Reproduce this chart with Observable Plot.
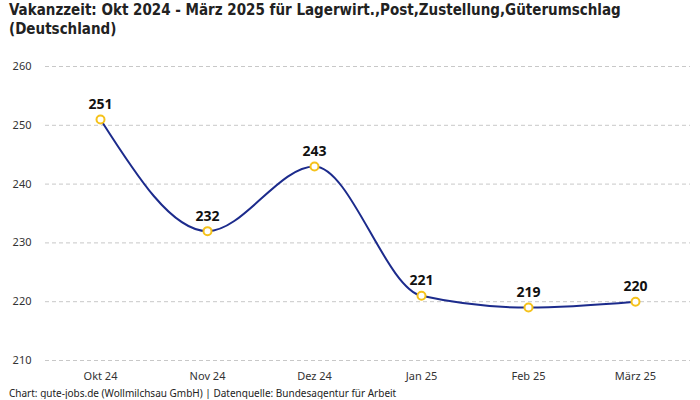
<!DOCTYPE html>
<html><head><meta charset="utf-8">
<script src="https://cdn.jsdelivr.net/npm/d3@7"></script>
<script src="https://cdn.jsdelivr.net/npm/@observablehq/plot@0.6"></script>
<style>
body{margin:0;background:#fff;font-family:"Noto Sans",sans-serif;}
#title{font-family:"DejaVu Sans",sans-serif;font-stretch:condensed;font-weight:bold;font-size:15px;line-height:19px;color:#222;padding:1px 0 0 9px;height:42px;box-sizing:border-box;white-space:nowrap;}
#cap{font-size:10px;color:#222;padding-left:9px;margin-top:1px;line-height:12px;}
</style></head><body>
<div id="title">Vakanzzeit: Okt 2024 - März 2025 für Lagerwirt.,Post,Zustellung,Güterumschlag<br>(Deutschland)</div>
<div id="chart"></div>
<div id="cap">Chart: gute-jobs.de (Wollmilchsau GmbH) | Datenquelle: Bundesagentur für Arbeit</div>
<script>
const months = ["Okt 24","Nov 24","Dez 24","Jan 25","Feb 25","März 25"];
const values = [251,232,243,221,219,220];
const yTicks = [210,220,230,240,250,260];
const data = months.map((m,i)=>({month:m,value:values[i]}));
const plot = Plot.plot({
  width:700, height:344,
  marginLeft:45, marginRight:10, marginTop:24, marginBottom:26,
  style:{fontFamily:"Noto Sans, sans-serif", fontSize:"11px", color:"#333"},
  x:{type:"point", domain:months, padding:0.5, label:null},
  y:{domain:[210,260], label:null, ticks:yTicks},
  marks:[
    Plot.ruleY(yTicks,{stroke:"#c8c8c8", strokeDasharray:"4,3", strokeWidth:1}),
    Plot.axisY({ticks:yTicks, tickSize:0, tickPadding:14, label:null, fontSize:11}),
    Plot.axisX({tickSize:0, tickPadding:12, label:null, fontSize:11}),
    Plot.line(data,{x:"month", y:"value", curve:"monotone-x", stroke:"#1c2b8c", strokeWidth:2}),
    Plot.dot(data,{x:"month", y:"value", r:4, fill:"white", stroke:"#f5c21b", strokeWidth:2}),
    Plot.text(data,{x:"month", y:"value", text:d=>String(d.value), dy:-15, fontSize:14, fontWeight:"bold", fill:"#111"})
  ]
});
document.getElementById("chart").appendChild(plot);
</script>
</body></html>
